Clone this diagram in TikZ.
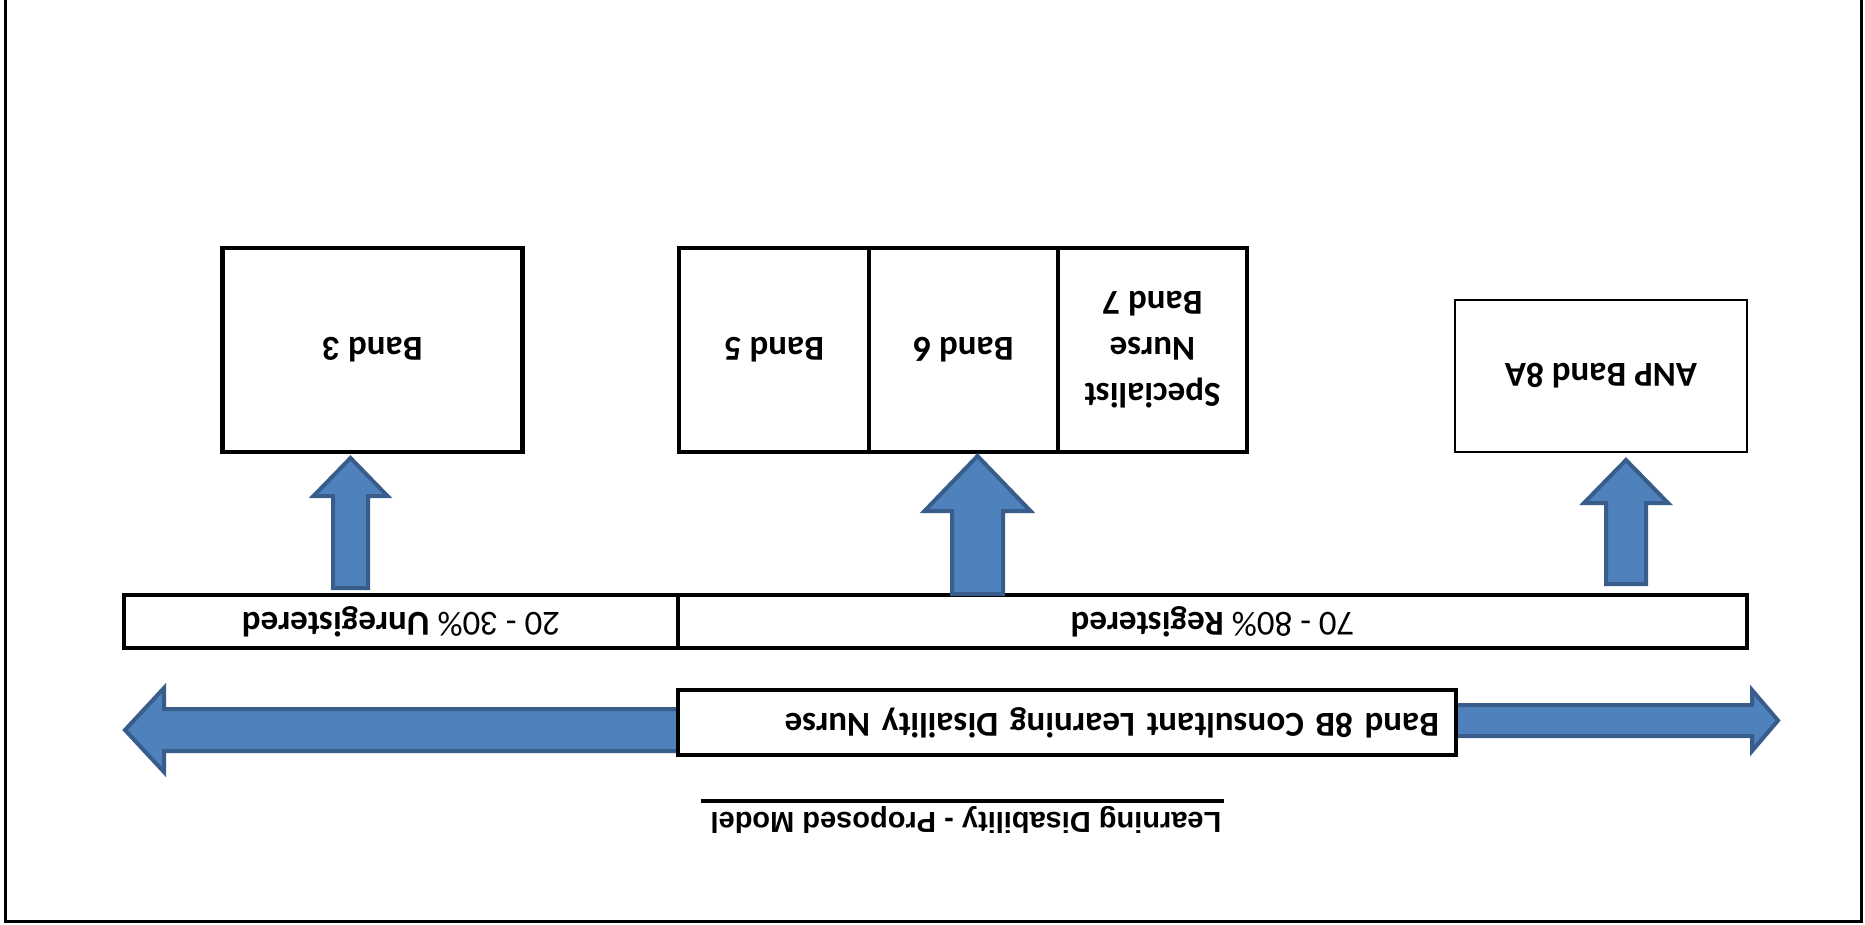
\documentclass[tikz,border=0pt]{standalone}
\usepackage{fontspec}
\newfontfamily\calfont{Carlito}
\newfontfamily\arialfont{Liberation Sans}
\definecolor{arrfill}{HTML}{4F81BD}
\definecolor{arrline}{HTML}{385D8A}
\begin{document}
\begin{tikzpicture}[x=1pt,y=-1pt,
  box/.style={draw=black, line width=4.5pt, fill=white, inner sep=0pt, rotate=180,
    font=\calfont\bfseries\fontsize{35}{46}\selectfont, align=center},
  thinbox/.style={box, line width=2.8pt},
  bigarrow/.style={fill=arrfill, draw=arrline, line width=4pt, line join=miter},
  frame/.style={draw=black, line width=3pt}]
\useasboundingbox (0,0) rectangle (1865,924);
% outer frame (top edge lies outside the picture)
\draw[frame] (5.5,-5) -- (5.5,921) -- (1861,921) -- (1861,-5);

% upper boxes
\node[box, minimum width=300pt, minimum height=204pt] (b3) at (372.5,350) {Band 3};
\node[box, minimum width=190pt, minimum height=204pt] (b5) at (774,350) {Band 5};
\node[box, minimum width=189pt, minimum height=204pt] (b6) at (963.5,350) {Band 6};
\node[box, minimum width=189pt, minimum height=204pt] (b7) at (1152.5,350) {Specialist\\Nurse\\Band 7};
\node[thinbox, minimum width=292pt, minimum height=152pt] (anp) at (1601,376) {ANP Band 8A};

% percentage bar
\node[box, minimum width=554pt, minimum height=53pt] (unreg) at (401,621.5)
  {{\mdseries 20 - 30\%} Unregistered};
\node[box, minimum width=1069pt, minimum height=53pt] (reg) at (1212.5,621.5)
  {{\mdseries 70 - 80\%} Registered};

% up arrows
\draw[bigarrow] (350.5,458) -- (387.5,496) -- (368,496) -- (368,588) -- (333,588) -- (333,496) -- (313.5,496) -- cycle;
\draw[bigarrow] (977.5,456) -- (1030.5,511) -- (1003,511) -- (1003,594) -- (952,594) -- (952,511) -- (924.5,511) -- cycle;
\draw[bigarrow] (1626,460) -- (1668,503) -- (1646,503) -- (1646,584) -- (1606,584) -- (1606,503) -- (1584,503) -- cycle;

% horizontal arrows
\draw[bigarrow] (678,709) -- (164,709) -- (164,688) -- (125,730) -- (164,772) -- (164,751) -- (678,751) -- cycle;
\draw[bigarrow] (1456,705) -- (1752,705) -- (1752,690) -- (1778,720.5) -- (1752,751) -- (1752,736) -- (1456,736) -- cycle;

% consultant box
\node[box, line width=4pt, minimum width=778pt, minimum height=65pt, text width=744pt, align=left, inner xsep=17pt] (cons) at (1067,722.5)
  {Band 8B Consultant Learning Disaility Nurse};

% title
\node[rotate=180, font=\arialfont\bfseries\fontsize{29}{33}\selectfont, inner sep=0pt] (title) at (966,820)
  {Learning Disability - Proposed Model};
\draw[line width=4pt] (701,801) -- (1224,801);
\end{tikzpicture}
\end{document}
